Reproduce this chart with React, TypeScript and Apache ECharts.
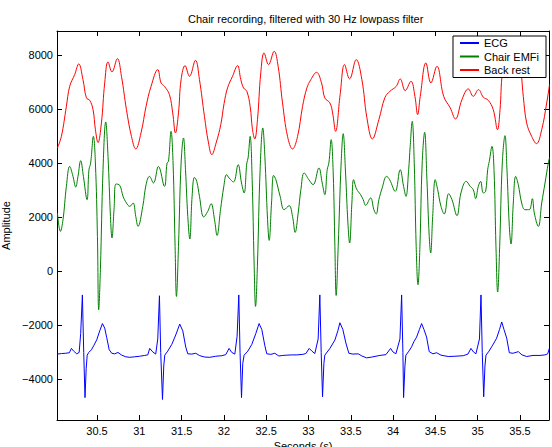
import { useEffect, useRef } from "react";
import * as echarts from "echarts";

// Axis ticks
const xTicks = [30.5, 31, 31.5, 32, 32.5, 33, 33.5, 34, 34.5, 35, 35.5];
const yTicks = [-4000, -2000, 0, 2000, 4000, 6000, 8000];

// ECG (seconds, amplitude)
const ecgTime = [
  30.029, 30.082, 30.13, 30.173, 30.197, 30.224, 30.26, 30.289, 30.307, 30.327, 30.343, 30.358, 30.372, 30.384,
  30.402, 30.434, 30.461, 30.497, 30.532, 30.564, 30.591, 30.615, 30.644, 30.674, 30.709, 30.748, 30.792, 30.84,
  30.887, 30.946, 31.005, 31.064, 31.1, 31.123, 31.159, 31.194, 31.218, 31.238, 31.253, 31.274, 31.289, 31.301,
  31.336, 31.384, 31.431, 31.478, 31.514, 31.549, 31.573, 31.62, 31.667, 31.715, 31.774, 31.833, 31.904, 31.975,
  32.022, 32.061, 32.093, 32.129, 32.156, 32.176, 32.191, 32.208, 32.223, 32.239, 32.283, 32.33, 32.377, 32.416,
  32.448, 32.484, 32.507, 32.555, 32.602, 32.649, 32.697, 32.744, 32.803, 32.862, 32.933, 32.969, 33.008, 33.04,
  33.075, 33.114, 33.134, 33.15, 33.166, 33.182, 33.193, 33.253, 33.312, 33.347, 33.371, 33.406, 33.442, 33.477,
  33.525, 33.587, 33.631, 33.687, 33.749, 33.844, 33.915, 33.971, 33.998, 34.033, 34.081, 34.101, 34.116, 34.124,
  34.14, 34.151, 34.187, 34.219, 34.246, 34.278, 34.311, 34.337, 34.365, 34.396, 34.427, 34.471, 34.515, 34.566,
  34.652, 34.731, 34.829, 34.885, 34.92, 34.95, 34.979, 35.021, 35.039, 35.054, 35.071, 35.086, 35.098, 35.134,
  35.165, 35.192, 35.224, 35.258, 35.284, 35.311, 35.343, 35.374, 35.417, 35.48, 35.524, 35.579, 35.654, 35.737,
  35.796, 35.828, 35.847,
];
const ecgValue = [
  -3060, -3040, -3030, -3010, -2850, -2950, -3050, -3000, -2300, -870, -3000, -4670, -3600, -3100,
  -3000, -2900, -2750, -2530, -2200, -1930, -2100, -2450, -2900, -3030, -3050, -3000, -3100, -3160,
  -3180, -3160, -3140, -3110, -3090, -2850, -2980, -3060, -2500, -900, -3000, -4740, -3500, -3100,
  -2950, -2700, -2350, -1950, -2200, -2800, -3050, -3060, -3030, -3120, -3170, -3180, -3140, -3120,
  -3080, -2850, -3000, -3060, -2400, -870, -3000, -4670, -3400, -3100, -2950, -2700, -2300, -1930,
  -2150, -2750, -3050, -3070, -3030, -3130, -3110, -3100, -3090, -3090, -3070, -3040, -2850, -2950,
  -3040, -2500, -870, -3000, -4640, -3400, -3100, -2850, -2540, -2200, -1900, -2150, -2650, -3030,
  -3060, -3050, -3130, -3200, -3170, -3110, -3080, -2850, -2980, -3050, -2500, -870, -3000, -4670,
  -3500, -3100, -2950, -2790, -2600, -2430, -2150, -1930, -2150, -2430, -2970, -3050, -3010, -3100,
  -3150, -3140, -3120, -3060, -2850, -2980, -3050, -2500, -870, -3000, -4640, -3500, -3100, -2950,
  -2790, -2650, -2470, -2150, -1870, -2150, -2470, -3010, -3030, -2970, -3090, -3150, -3110, -3110,
  -3090, -3050, -2850,
];

// Chair EMFi sensor
const chairTime = [
  30.032, 30.067, 30.098, 30.138, 30.177, 30.216, 30.248, 30.275, 30.307, 30.339, 30.382, 30.405, 30.425, 30.457,
  30.481, 30.505, 30.52, 30.54, 30.571, 30.603, 30.63, 30.659, 30.677, 30.701, 30.725, 30.769, 30.808, 30.848,
  30.887, 30.926, 30.958, 30.985, 31.041, 31.08, 31.12, 31.167, 31.226, 31.297, 31.328, 31.345, 31.375, 31.399,
  31.423, 31.439, 31.463, 31.494, 31.522, 31.546, 31.573, 31.597, 31.624, 31.652, 31.679, 31.711, 31.762, 31.809,
  31.849, 31.889, 31.919, 31.96, 31.999, 32.031, 32.061, 32.113, 32.168, 32.208, 32.239, 32.271, 32.286, 32.31,
  32.334, 32.357, 32.374, 32.397, 32.428, 32.46, 32.484, 32.516, 32.535, 32.563, 32.587, 32.614, 32.665, 32.712,
  32.771, 32.811, 32.842, 32.878, 32.91, 32.949, 33.004, 33.055, 33.123, 33.162, 33.193, 33.221, 33.241, 33.268,
  33.292, 33.312, 33.327, 33.351, 33.386, 33.41, 33.438, 33.466, 33.486, 33.513, 33.533, 33.568, 33.616, 33.647,
  33.675, 33.734, 33.773, 33.8, 33.832, 33.871, 33.923, 33.959, 34.025, 34.084, 34.124, 34.152, 34.184, 34.202,
  34.226, 34.25, 34.273, 34.294, 34.317, 34.344, 34.373, 34.4, 34.427, 34.444, 34.468, 34.498, 34.527, 34.566,
  34.605, 34.657, 34.696, 34.755, 34.802, 34.865, 34.912, 34.948, 34.976, 35.007, 35.035, 35.066, 35.094, 35.118,
  35.137, 35.169, 35.193, 35.216, 35.236, 35.26, 35.291, 35.323, 35.346, 35.374, 35.394, 35.421, 35.449, 35.48,
  35.52, 35.559, 35.61, 35.646, 35.669, 35.717, 35.757, 35.796, 35.835, 35.849,
];
const chairValue = [
  2163, 1482, 1915, 3148, 3889, 3519, 3126, 3519, 4100, 3519, 2656, 3767, 4015, 5000,
  4015, 1296, -1419, 63, 3767, 5534, 4260, 2037, 1237, 2285, 3237, 3185, 2778, 2534,
  2408, 2534, 2037, 1667, 2408, 3211, 3519, 3274, 3889, 3148, 4015, 4074, 5186, 4015,
  926, -926, 926, 4015, 4941, 3767, 2037, 1200, 2778, 3482, 3334, 2778, 2015, 2222,
  2508, 1915, 1333, 2285, 3148, 3582, 3460, 3311, 3952, 3274, 2904, 4015, 4200, 5000,
  3397, 311, -1296, 311, 3767, 5311, 4260, 1915, 1148, 2534, 3556, 3397, 2778, 2285,
  2434, 2037, 1445, 2163, 3026, 3645, 3397, 3211, 3830, 3274, 2841, 3767, 4015, 4878,
  3645, 926, -889, 926, 4015, 5100, 3645, 1793, 1052, 2534, 3397, 3052, 2841, 2656,
  2445, 2719, 2285, 2126, 2656, 3089, 3519, 3397, 2963, 3767, 3148, 2778, 3767, 4630,
  5556, 4015, 926, -493, 926, 4015, 5149, 3397, 1296, 682, 2037, 3397, 3026, 2408,
  2126, 2878, 2656, 2063, 2904, 3334, 3148, 3026, 2693, 3148, 3334, 2904, 2963, 3767,
  4074, 4630, 3767, 926, -763, 926, 4015, 5026, 3767, 1667, 1015, 2534, 3519, 3211,
  2534, 2285, 2285, 2693, 2163, 1667, 2534, 3274, 4015, 4211,
];

// Back rest sensor
const backTime = [
  30.032, 30.079, 30.138, 30.177, 30.236, 30.284, 30.334, 30.375, 30.414, 30.453, 30.481, 30.512, 30.552, 30.591,
  30.63, 30.677, 30.741, 30.789, 30.848, 30.907, 30.958, 31.02, 31.08, 31.139, 31.218, 31.257, 31.297, 31.356,
  31.395, 31.427, 31.463, 31.494, 31.541, 31.593, 31.664, 31.711, 31.77, 31.818, 31.857, 31.908, 31.963, 32.002,
  32.043, 32.102, 32.161, 32.2, 32.232, 32.271, 32.31, 32.338, 32.365, 32.397, 32.436, 32.475, 32.528, 32.594,
  32.641, 32.693, 32.752, 32.811, 32.871, 32.93, 32.981, 33.028, 33.095, 33.154, 33.193, 33.253, 33.285, 33.32,
  33.374, 33.426, 33.486, 33.564, 33.631, 33.69, 33.755, 33.832, 33.903, 33.962, 34.037, 34.084, 34.143, 34.211,
  34.258, 34.29, 34.321, 34.388, 34.447, 34.518, 34.598, 34.676, 34.737, 34.814, 34.889, 34.948, 35.009, 35.066,
  35.125, 35.184, 35.234, 35.264, 35.291, 35.335, 35.382, 35.417, 35.453, 35.5, 35.539, 35.579, 35.638, 35.695,
  35.757, 35.816, 35.849,
];
const backValue = [
  4571, 5000, 6112, 6852, 7286, 7682, 7101, 6423, 6334, 5989, 5249, 4767, 5497, 6978,
  7756, 7386, 7878, 7223, 5989, 5000, 4534, 5126, 6112, 6852, 7471, 6978, 6852, 6545,
  5867, 5126, 5867, 7101, 7619, 7223, 7815, 7101, 5741, 4756, 4323, 4756, 5434, 6212,
  6793, 7223, 7619, 7101, 6793, 6667, 6112, 5249, 4904, 5619, 7349, 8089, 7656, 8149,
  7593, 6238, 5000, 4534, 5000, 6112, 6793, 7101, 7371, 6978, 6423, 6238, 5867, 5186,
  6545, 7656, 7126, 7841, 7101, 5693, 4904, 5619, 6434, 6667, 6852, 7126, 6693, 7038,
  6482, 5804, 6482, 7719, 6978, 7593, 6482, 6052, 5645, 6360, 6756, 6482, 6730, 6452,
  6334, 5989, 5249, 5989, 7349, 8027, 8323, 8101, 8360, 7767, 6482, 5497, 5000, 4730,
  5249, 6238, 6915,
];

const FONT = "'Liberation Sans', Arial, Helvetica, sans-serif";
const X_MIN = 30.027;
const X_MAX = 35.843;
const Y_MIN = -5500;
const Y_MAX = 8900;

const zip = (t: number[], v: number[]) => t.map((x, i) => [x, v[i]]);
const fmtY = (v: number) => (v < 0 ? "\u2212" + Math.abs(v) : String(v));

const line = { show: true, onZero: false, lineStyle: { color: "#000", width: 1 } };
const tick = (values: number[]) => ({
  show: true,
  inside: true,
  length: 5,
  customValues: values,
  lineStyle: { color: "#000", width: 1 },
});
const label = { color: "#000", fontSize: 11, fontFamily: FONT };

export default function App() {
  const ref = useRef<HTMLDivElement>(null);

  useEffect(() => {
    const chart = echarts.init(ref.current!, null, { renderer: "svg" });
    chart.setOption({
      animation: false,
      backgroundColor: "#fff",
      textStyle: { fontFamily: FONT },
      title: {
        text: "Chair recording, filtered with 30 Hz lowpass filter",
        left: 188,
        top: 13,
        padding: 0,
        textStyle: { fontSize: 11, fontWeight: "normal", color: "#000", fontFamily: FONT },
      },
      legend: {
        data: ["ECG", "Chair EMFi", "Back rest"],
        orient: "vertical",
        right: 6,
        top: 36,
        itemWidth: 19,
        itemHeight: 11,
        itemGap: 2.5,
        padding: [1.5, 7, 2, 6],
        backgroundColor: "#fff",
        borderColor: "#000",
        borderWidth: 1,
        borderRadius: 0,
        selectedMode: false,
        itemStyle: { opacity: 0 },
        textStyle: { ...label },
      },
      grid: {
        left: 57,
        right: 3,
        top: 31,
        bottom: 27,
        containLabel: false,
        outerBoundsMode: "none",
      },
      xAxis: [
        {
          type: "value",
          min: X_MIN,
          max: X_MAX,
          position: "bottom",
          axisLine: line,
          axisTick: tick(xTicks),
          axisLabel: { ...label, margin: 5, customValues: xTicks, formatter: (v: number) => String(v) },
          splitLine: { show: false },
          name: "Seconds (s)",
          nameLocation: "middle",
          nameGap: 16,
          nameTextStyle: { ...label },
        },
        {
          type: "value",
          min: X_MIN,
          max: X_MAX,
          position: "top",
          axisLine: line,
          axisTick: tick(xTicks),
          axisLabel: { show: false, customValues: xTicks },
          splitLine: { show: false },
        },
      ],
      yAxis: [
        {
          type: "value",
          min: Y_MIN,
          max: Y_MAX,
          position: "left",
          axisLine: line,
          axisTick: tick(yTicks),
          axisLabel: { ...label, margin: 4, customValues: yTicks, formatter: fmtY },
          splitLine: { show: false },
          name: "Amplitude",
          nameLocation: "middle",
          nameRotate: 90,
          nameGap: 36,
          nameTextStyle: { ...label },
        },
        {
          type: "value",
          min: Y_MIN,
          max: Y_MAX,
          position: "right",
          axisLine: line,
          axisTick: tick(yTicks),
          axisLabel: { show: false, customValues: yTicks },
          splitLine: { show: false },
        },
      ],
      series: [
        {
          name: "ECG",
          type: "line",
          data: zip(ecgTime, ecgValue),
          symbol: "none",
          smooth: false,
          lineStyle: { color: "#0000ff", width: 1 },
          itemStyle: { color: "#0000ff" },
        },
        {
          name: "Chair EMFi",
          type: "line",
          data: zip(chairTime, chairValue),
          symbol: "none",
          smooth: 0.4,
          lineStyle: { color: "#008000", width: 1 },
          itemStyle: { color: "#008000" },
        },
        {
          name: "Back rest",
          type: "line",
          data: zip(backTime, backValue),
          symbol: "none",
          smooth: 0.4,
          lineStyle: { color: "#ff0000", width: 1 },
          itemStyle: { color: "#ff0000" },
        },
      ],
    });
    return () => chart.dispose();
  }, []);

  return (
    <div
      ref={ref}
      style={{ position: "fixed", left: 0, top: 0, width: 552, height: 447 }}
    />
  );
}
